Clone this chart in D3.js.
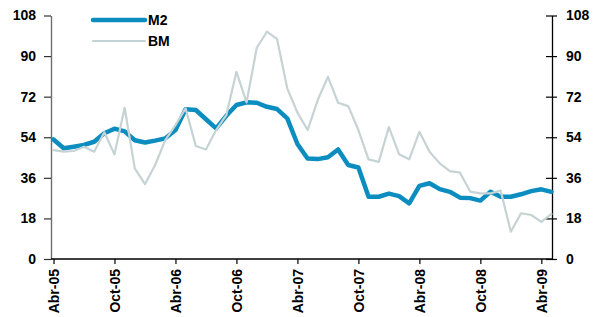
<!DOCTYPE html>
<html>
<head>
<meta charset="utf-8">
<script src="https://cdn.jsdelivr.net/npm/d3@7"></script>
<style>
  body { margin: 0; background: #fff; }
  text { font-family: "Liberation Sans", Arial, sans-serif; font-weight: bold; fill: #000; }
</style>
</head>
<body>
<script>
// monthly categories, Apr-05 .. May-09
var months = [
  "Abr-05","May-05","Jun-05","Jul-05","Ago-05","Sep-05","Oct-05","Nov-05","Dic-05",
  "Ene-06","Feb-06","Mar-06","Abr-06","May-06","Jun-06","Jul-06","Ago-06","Sep-06","Oct-06","Nov-06","Dic-06",
  "Ene-07","Feb-07","Mar-07","Abr-07","May-07","Jun-07","Jul-07","Ago-07","Sep-07","Oct-07","Nov-07","Dic-07",
  "Ene-08","Feb-08","Mar-08","Abr-08","May-08","Jun-08","Jul-08","Ago-08","Sep-08","Oct-08","Nov-08","Dic-08",
  "Ene-09","Feb-09","Mar-09","Abr-09","May-09"
];

var m2 = [
  53.0, 49.1, 49.8, 50.6, 52.0, 55.8, 57.8, 56.6, 52.7,
  51.7, 52.5, 53.5, 57.2, 66.4, 66.1, 62.0, 57.9, 63.5, 68.3, 69.5, 69.3,
  67.5, 66.5, 62.4, 51.0, 44.6, 44.3, 45.1, 48.6, 41.7, 40.6, 27.6, 27.6,
  29.0, 27.9, 24.7, 32.4, 33.6, 31.0, 29.8, 27.2, 27.0, 25.9, 29.8, 27.6,
  27.6, 28.7, 30.1, 30.9, 29.8
];

var bm = [
  48.3, 47.6, 47.9, 49.8, 47.6, 56.2, 46.4, 67.1, 40.2,
  33.2, 41.7, 52.7, 59.4, 66.8, 50.1, 48.6, 57.2, 63.8, 83.0, 69.5, 93.7,
  100.8, 97.5, 75.7, 65.0, 57.2, 70.5, 80.8, 69.3, 67.8, 57.2, 44.2, 43.1,
  58.5, 46.5, 44.2, 56.4, 47.6, 42.4, 39.0, 38.3, 29.9, 29.1, 29.1, 30.3,
  12.1, 20.3, 19.5, 16.5, 20.0
];

var yTicks = [0, 18, 36, 54, 72, 90, 108];
var xTickLabels = ["Abr-05","Oct-05","Abr-06","Oct-06","Abr-07","Oct-07","Abr-08","Oct-08","Abr-09"];

var series = [
  {name: "M2", values: m2, color: "#0b8dc0", width: 4.5},
  {name: "BM", values: bm, color: "#c6d3d5", width: 2.2}
];

var W = 597, H = 317,
    plot = {left: 51, right: 552, top: 15.5, bottom: 259};

var svg = d3.select("body").append("svg")
    .attr("width", W)
    .attr("height", H);

var x = d3.scalePoint().domain(months).range([plot.left + 2.5, plot.right - 0.5]);
var y = d3.scaleLinear().domain([0, 108]).range([plot.bottom, plot.top]);

// left axis (grey line)
var yl = svg.append("g")
    .attr("transform", "translate(" + plot.left + ",0)")
    .call(d3.axisLeft(y).tickValues(yTicks).tickSize(7).tickSizeOuter(0).tickPadding(8));
yl.select(".domain").attr("stroke", "#6e6e6e").attr("stroke-width", 1.4);
yl.selectAll("line").attr("stroke", "#333").attr("stroke-width", 1.2);
yl.selectAll("text").style("font-size", "14px");

// right axis, ticks cross the line
var yr = svg.append("g")
    .attr("transform", "translate(" + plot.right + ",0)")
    .call(d3.axisRight(y).tickValues(yTicks).tickSize(5).tickSizeOuter(0).tickPadding(9));
yr.select(".domain").attr("stroke", "#000").attr("stroke-width", 1.3);
yr.selectAll("line").attr("x1", -6).attr("stroke", "#000").attr("stroke-width", 1.2);
yr.selectAll("text").style("font-size", "14px");

// bottom axis
var xa = svg.append("g")
    .attr("transform", "translate(0," + plot.bottom + ")")
    .call(d3.axisBottom(x).tickValues(xTickLabels).tickSize(5).tickSizeOuter(0));
xa.select(".domain").remove();
xa.append("line")
    .attr("x1", plot.left).attr("x2", plot.right)
    .attr("stroke", "#000").attr("stroke-width", 1.4);
xa.selectAll(".tick line").attr("stroke", "#000").attr("stroke-width", 1.2);
xa.selectAll("text")
    .style("font-size", "14px")
    .attr("text-anchor", "end")
    .attr("transform", "rotate(-90)")
    .attr("x", -10)
    .attr("y", 0)
    .attr("dy", "0.36em");

var line = d3.line()
    .x(function(d, i) { return x(months[i]); })
    .y(function(d) { return y(d); });

svg.selectAll(".series")
    .data(series)
    .enter().append("path")
    .attr("class", "series")
    .attr("d", function(s) { return line(s.values); })
    .attr("fill", "none")
    .attr("stroke", function(s) { return s.color; })
    .attr("stroke-width", function(s) { return s.width; })
    .attr("stroke-linejoin", "round")
    .attr("stroke-linecap", "round");

// legend
var legend = svg.selectAll(".legend")
    .data(series)
    .enter().append("g")
    .attr("class", "legend")
    .attr("transform", function(s, i) { return "translate(93," + (20 + i * 21) + ")"; });
legend.append("line")
    .attr("x1", 0).attr("x2", 52)
    .attr("stroke", function(s) { return s.color; })
    .attr("stroke-width", function(s) { return s.width; })
    .attr("stroke-linecap", "round");
legend.append("text")
    .attr("x", 55)
    .attr("dy", "0.36em")
    .style("font-size", "14px")
    .text(function(s) { return s.name; });
</script>
</body>
</html>
